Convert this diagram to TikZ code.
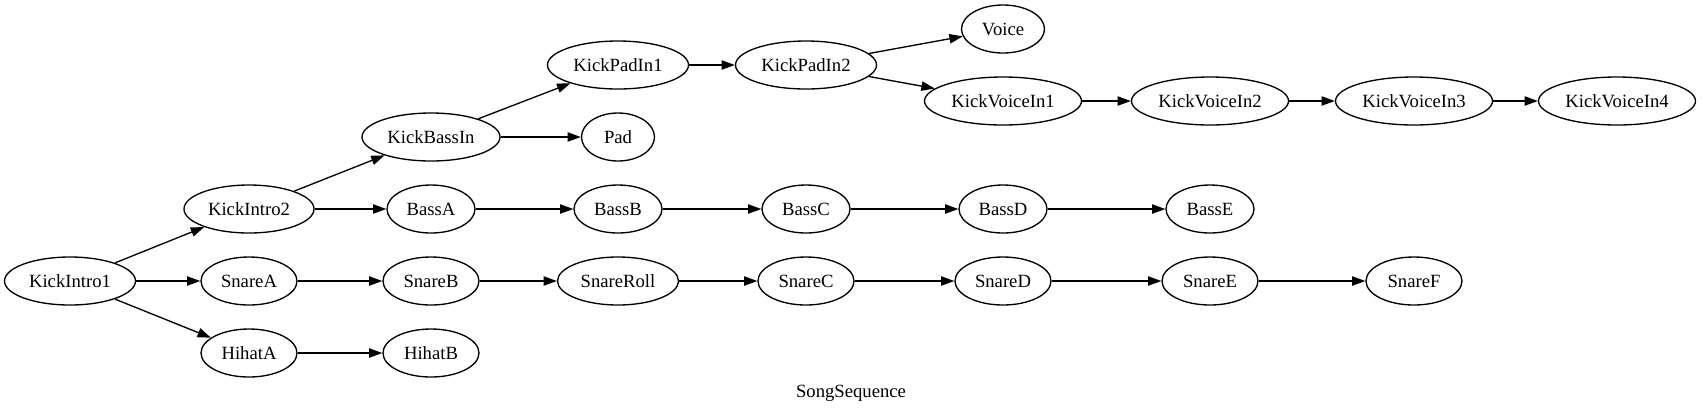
\documentclass[tikz,border=0pt]{standalone}
\usepackage{fontspec}
\setmainfont{Liberation Serif}
\usetikzlibrary{shapes.geometric,arrows.meta}
\tikzset{
  gv/.style={draw, ellipse, line width=1pt, inner sep=0pt, minimum height=36pt, font=\fontsize{14pt}{16pt}\selectfont},
  wKI/.style={gv, minimum width=98.25pt},
  wKB/.style={gv, minimum width=103.5pt},
  wSn/.style={gv, minimum width=72pt},
  wBa/.style={gv, minimum width=66pt},
  wPad/.style={gv, minimum width=54.75pt},
  wVo/.style={gv, minimum width=62.25pt},
  wSR/.style={gv, minimum width=90.75pt},
  wKP/.style={gv, minimum width=105.75pt},
  wKV/.style={gv, minimum width=117.75pt},
  edge/.style={line width=1pt, -{Triangle[length=10pt,width=7pt]}},
  glabel/.style={font=\fontsize{14pt}{16pt}\selectfont, inner sep=0pt}
}
\begin{document}
\begin{tikzpicture}[x=0.75pt, y=-0.75pt]
\useasboundingbox (0,0) rectangle (1702,412);
% rank 0
\node[wKI] (KickIntro1) at (70,281) {KickIntro1};
% rank 1
\node[wKI, minimum width=97.5pt] (KickIntro2) at (249,209) {KickIntro2};
\node[wSn] (SnareA) at (249,281) {SnareA};
\node[wSn] (HihatA) at (249,353) {HihatA};
% rank 2
\node[wKB] (KickBassIn) at (431,137) {KickBassIn};
\node[wBa] (BassA) at (431,209) {BassA};
\node[wSn] (SnareB) at (431,281) {SnareB};
\node[wSn] (HihatB) at (431,353) {HihatB};
% rank 3
\node[wKP] (KickPadIn1) at (618,65) {KickPadIn1};
\node[wPad] (Pad) at (618,137) {Pad};
\node[wBa] (BassB) at (618,209) {BassB};
\node[wSR] (SnareRoll) at (618,281) {SnareRoll};
% rank 4
\node[wKP] (KickPadIn2) at (806,65) {KickPadIn2};
\node[wBa] (BassC) at (806,209) {BassC};
\node[wSn] (SnareC) at (806,281) {SnareC};
% rank 5
\node[wVo] (Voice) at (1003,29) {Voice};
\node[wKV] (KickVoiceIn1) at (1003,101) {KickVoiceIn1};
\node[wBa] (BassD) at (1003,209) {BassD};
\node[wSn] (SnareD) at (1003,281) {SnareD};
% rank 6
\node[wKV] (KickVoiceIn2) at (1210,101) {KickVoiceIn2};
\node[wBa] (BassE) at (1210,209) {BassE};
\node[wSn] (SnareE) at (1210,281) {SnareE};
% rank 7
\node[wKV] (KickVoiceIn3) at (1414,101) {KickVoiceIn3};
\node[wSn] (SnareF) at (1414,281) {SnareF};
% rank 8
\node[wKV] (KickVoiceIn4) at (1617,101) {KickVoiceIn4};
% label
\node[glabel] (title) at (851,393) {SongSequence};
% edges
\draw[edge] (KickIntro1) -- (KickIntro2);
\draw[edge] (KickIntro1) -- (SnareA);
\draw[edge] (KickIntro1) -- (HihatA);
\draw[edge] (KickIntro2) -- (KickBassIn);
\draw[edge] (KickIntro2) -- (BassA);
\draw[edge] (KickBassIn) -- (KickPadIn1);
\draw[edge] (KickBassIn) -- (Pad);
\draw[edge] (KickPadIn1) -- (KickPadIn2);
\draw[edge] (KickPadIn2) -- (Voice);
\draw[edge] (KickPadIn2) -- (KickVoiceIn1);
\draw[edge] (KickVoiceIn1) -- (KickVoiceIn2);
\draw[edge] (KickVoiceIn2) -- (KickVoiceIn3);
\draw[edge] (KickVoiceIn3) -- (KickVoiceIn4);
\draw[edge] (BassA) -- (BassB);
\draw[edge] (BassB) -- (BassC);
\draw[edge] (BassC) -- (BassD);
\draw[edge] (BassD) -- (BassE);
\draw[edge] (SnareA) -- (SnareB);
\draw[edge] (SnareB) -- (SnareRoll);
\draw[edge] (SnareRoll) -- (SnareC);
\draw[edge] (SnareC) -- (SnareD);
\draw[edge] (SnareD) -- (SnareE);
\draw[edge] (SnareE) -- (SnareF);
\draw[edge] (HihatA) -- (HihatB);
\end{tikzpicture}
\end{document}
